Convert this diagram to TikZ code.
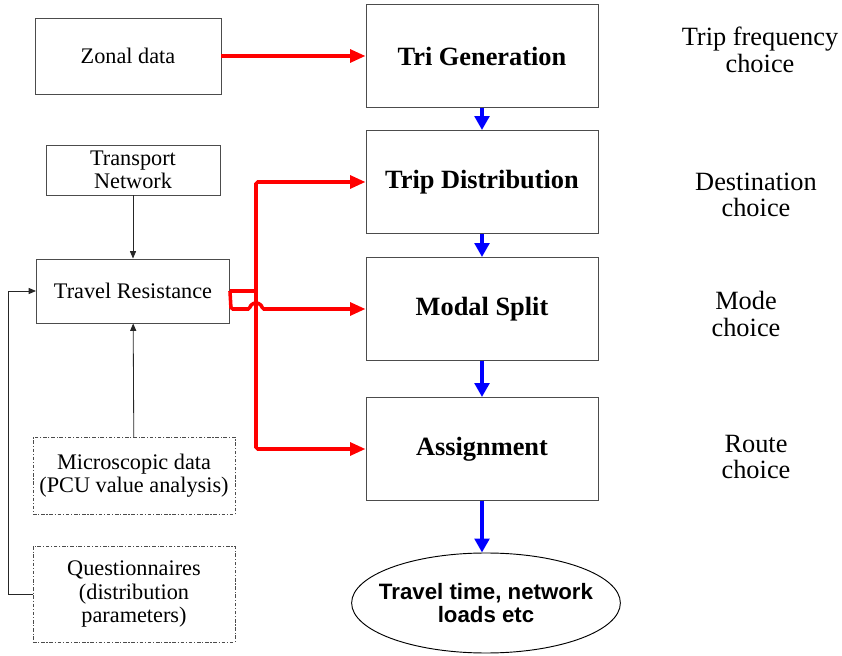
\documentclass[tikz,border=0pt]{standalone}
\usepackage{fontspec}
\setmainfont{Liberation Serif}
\newfontfamily\arialfont{Liberation Sans}
\usepackage{tikz}
\usetikzlibrary{shapes.geometric}
\usetikzlibrary{arrows.meta}
\usetikzlibrary{positioning}
\tikzstyle{donnee}=[rectangle,draw=black!70,line width=0.8pt,align=center,inner sep=0pt,
        font=\fontsize{19}{19.8}\selectfont]
\tikzstyle{pointille}=[donnee,dash pattern=on 3pt off 1.5pt on 1pt off 1.5pt]
\tikzstyle{etape}=[rectangle,draw=black!70,line width=0.8pt,minimum width=69.6mm,
        minimum height=30.9mm,font=\fontsize{22.5}{24}\selectfont\bfseries]
\tikzstyle{choix}=[align=center,font=\fontsize{22.5}{22.5}\selectfont]
\tikzstyle{resultat}=[ellipse,draw,line width=0.8pt,minimum width=80.5mm,minimum height=30mm,
        inner xsep=-3.6mm,inner ysep=0pt,align=center,font=\arialfont\bfseries\fontsize{19}{19.5}\selectfont]
\tikzstyle{rouge}=[-{Triangle[length=4.6mm,width=3.8mm]},red,line width=3pt,rounded corners=1.5pt]
\tikzstyle{bleu}=[-{Triangle[length=4.2mm,width=4.4mm]},blue,line width=3pt]
\tikzstyle{fleche}=[-{Triangle[length=2.2mm,width=1.8mm]},line width=0.7pt,black!85]

\begin{document}
\begin{tikzpicture}[x=0.3mm,y=-0.3mm]
\useasboundingbox (0,0) rectangle (842,656);
\node[donnee,minimum width=55.8mm,minimum height=22.8mm] (zone) at (128,56) {Zonal data};
\node[donnee,minimum width=52.2mm,minimum height=15mm] (reseau) at (133,170) {Transport\\Network};
\node[donnee,minimum width=57.9mm,minimum height=19.2mm] (resist) at (133,291) {Travel Resistance};
\node[pointille,minimum width=60.6mm,minimum height=23.1mm] (micro) at (134,476) {Microscopic data\\(PCU value analysis)};
\node[pointille,minimum width=60.6mm,minimum height=28.8mm] (quest) at (134,594) {Questionnaires\\(distribution\\parameters)};
\node[etape] (gen) at (482,56) {Tri Generation};
\node[etape] (dist) at (482,182) {Trip Distribution};
\node[etape] (modal) at (482,309) {Modal Split};
\node[etape] (affect) at (482,449) {Assignment};
\node[resultat] (res) at (486,603) {Travel time, network\\loads etc};
\node[choix] (c1) at (760,50) {Trip frequency\\choice};
\node[choix] (c2) at (756,195) {Destination\\choice};
\node[choix] (c3) at (746,314) {Mode\\choice};
\node[choix] (c4) at (756,457) {Route\\choice};
%fleches bleues
\draw[bleu] (gen) -- (dist);
\draw[bleu] (dist) -- (modal);
\draw[bleu] (modal) -- (affect);
\draw[bleu] (affect) -- (affect |- res.north);
%fleches rouges
\draw[rouge] (zone) -- (gen);
\draw[red,line width=3pt] (resist.east) -- (256,291) coordinate (bus);
\draw[rouge] (bus) |- (dist.west);
\draw[rouge] (bus) |- (affect.west);
\draw[rouge] (resist.east) -- (231,309) -- (250,309) arc[start angle=180,end angle=360,radius=6] -- (modal.west);
%fleches noires
\draw[fleche] (reseau) -- (resist);
\draw[fleche] (micro) -- (resist);
\draw[fleche] (quest.west) -- (8,594) |- (resist.west);
\end{tikzpicture}
\end{document}
